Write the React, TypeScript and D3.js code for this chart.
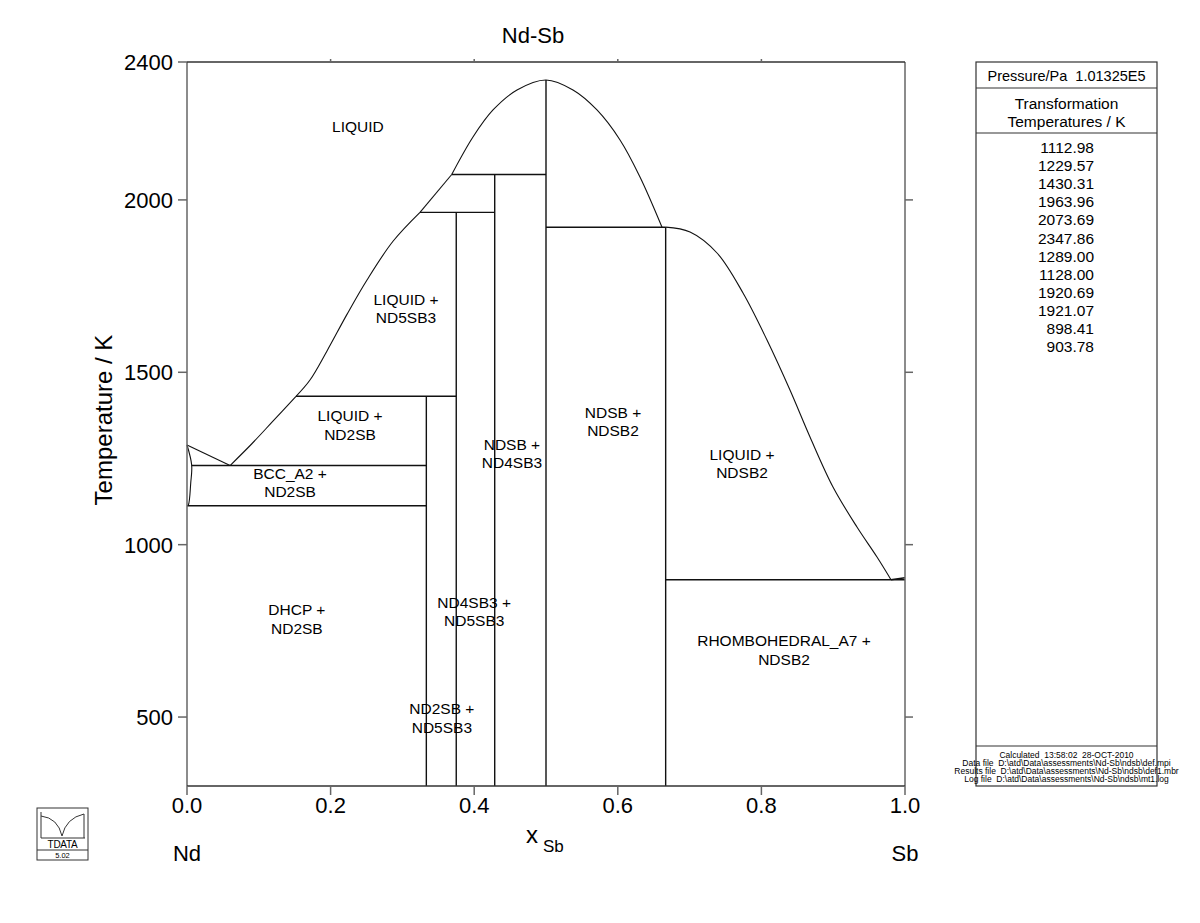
import React from "react";
import * as d3 from "d3";

const title = "Nd-Sb";
const xTicks = [0, 0.2, 0.4, 0.6, 0.8, 1.0];
const yTicks = [500, 1000, 1500, 2000, 2400];
const transformationTemps = ["1112.98", "1229.57", "1430.31", "1963.96", "2073.69", "2347.86", "1289.00", "1128.00", "1920.69", "1921.07", "898.41", "903.78"];
const footerLines = [
  "Calculated  13:58:02  28-OCT-2010",
  "Data file  D:\\atd\\Data\\assessments\\Nd-Sb\\ndsb\\def.mpi",
  "Results file  D:\\atd\\Data\\assessments\\Nd-Sb\\ndsb\\def1.mbr",
  "Log file  D:\\atd\\Data\\assessments\\Nd-Sb\\ndsb\\mt1.log",
];

// phase boundary curves: [x_Sb, T/K]
const liquidusNd: [number, number][] = [[0, 1289], [0.06, 1229.57]];
const solidusNd: [number, number][] = [[0, 1289], [0.0065, 1231], [0.0052, 1179], [0.0018, 1115], [0, 1112.98]];
const liquidusEut: [number, number][] = [[0.06, 1229.57], [0.09, 1292], [0.12, 1359], [0.1518, 1430.31]];
const liquidusLeft: [number, number][] = [[0.1518, 1430.31], [0.1713, 1477.6], [0.195, 1562], [0.2228, 1668], [0.2507, 1767.7], [0.2869, 1880], [0.3245, 1963.96]];
const liquidusStep: [number, number][] = [[0.3245, 1963.96], [0.3687, 2073.69]];
const liquidusDome: [number, number][] = [[0.3687, 2073.69], [0.3983, 2182.5], [0.4262, 2260.8], [0.4596, 2318.8], [0.5, 2347.86], [0.5376, 2318.8], [0.571, 2260.8], [0.6031, 2173.8], [0.6309, 2066.5], [0.6616, 1920.69]];
const liquidusRight: [number, number][] = [[0.6667, 1921.07], [0.7006, 1906.9], [0.7382, 1846], [0.7744, 1730], [0.8078, 1593.6], [0.8398, 1448.6], [0.8677, 1312.3], [0.8997, 1167.3], [0.9331, 1051.2], [0.961, 964.2], [0.9805, 898.41]];
const liquidusSb: [number, number][] = [[0.9805, 898.41], [1.0, 903.78]];

// invariant horizontals: [x1, x2, T]
const invariants: [number, number, number][] = [
  [0.0065, 1 / 3, 1229.57],
  [0, 1 / 3, 1112.98],
  [0.1518, 0.375, 1430.31],
  [0.3245, 3 / 7, 1963.96],
  [0.3687, 0.5, 2073.69],
  [0.5, 2 / 3, 1920.69],
  [2 / 3, 1.0, 898.41],
];
// compounds: [x, Ttop]
const compounds: [number, number][] = [
  [1 / 3, 1430.31],
  [0.375, 1963.96],
  [3 / 7, 2073.69],
  [0.5, 2347.86],
  [2 / 3, 1921.07],
];

const regionLabels: { x: number; t: number; lines: string[] }[] = [
  { x: 0.238, t: 2211, lines: ["LIQUID"] },
  { x: 0.305, t: 1684, lines: ["LIQUID +", "ND5SB3"] },
  { x: 0.227, t: 1347, lines: ["LIQUID +", "ND2SB"] },
  { x: 0.1435, t: 1179, lines: ["BCC_A2 +", "ND2SB"] },
  { x: 0.153, t: 784, lines: ["DHCP +", "ND2SB"] },
  { x: 0.4, t: 805, lines: ["ND4SB3 +", "ND5SB3"] },
  { x: 0.355, t: 497, lines: ["ND2SB +", "ND5SB3"] },
  { x: 0.4526, t: 1263, lines: ["NDSB +", "ND4SB3"] },
  { x: 0.5933, t: 1356, lines: ["NDSB +", "NDSB2"] },
  { x: 0.773, t: 1234, lines: ["LIQUID +", "NDSB2"] },
  { x: 0.8315, t: 694, lines: ["RHOMBOHEDRAL_A7 +", "NDSB2"] },
];

const FONT = "'Liberation Sans', Arial, Helvetica, sans-serif";

export default function App() {
  const W = 1200, H = 923;
  const left = 187, right = 905, top = 62, bottom = 786;
  const x = d3.scaleLinear().domain([0, 1]).range([left, right]);
  const y = d3.scaleLinear().domain([300, 2400]).range([bottom, top]);
  const line = d3.line<[number, number]>().x((d) => x(d[0])).y((d) => y(d[1]));
  const smooth = d3.line<[number, number]>().x((d) => x(d[0])).y((d) => y(d[1])).curve(d3.curveCatmullRom.alpha(0.5));
  const lineColor = "#111";
  const axisColor = "#666";

  const boxL = 976, boxR = 1157, boxT = 62, boxB = 786;
  const boxC = (boxL + boxR) / 2;

  return (
    <svg width={W} height={H} style={{ position: "absolute", left: 0, top: 0, background: "#fff" }} fontFamily={FONT}>
      <rect x={0} y={0} width={W} height={H} fill="#fff" />
      {/* title */}
      <text x={533} y={43} fontSize={22} textAnchor="middle">{title}</text>

      {/* phase lines */}
      <g fill="none" stroke={lineColor} strokeWidth={1.1}>
        <path d={line(liquidusNd) || ""} />
        <path d={smooth(solidusNd) || ""} />
        <path d={smooth(liquidusEut) || ""} />
        <path d={smooth(liquidusLeft) || ""} />
        <path d={line(liquidusStep) || ""} />
        <path d={smooth(liquidusDome) || ""} />
        <path d={smooth(liquidusRight) || ""} />
        <path d={line(liquidusSb) || ""} strokeWidth={1.5} />
        {invariants.map((d, i) => (
          <line key={"h" + i} x1={x(d[0])} x2={x(d[1])} y1={y(d[2])} y2={y(d[2])} strokeWidth={1.4} />
        ))}
        {compounds.map((d, i) => (
          <line key={"v" + i} x1={x(d[0])} x2={x(d[0])} y1={y(300)} y2={y(d[1])} strokeWidth={1.4} />
        ))}
      </g>

      {/* frame */}
      <g stroke={axisColor} strokeWidth={1.5} fill="none">
        <line x1={left} x2={left} y1={top} y2={bottom} />
        <line x1={right} x2={right} y1={top} y2={bottom} />
        <line x1={left} x2={right} y1={top} y2={top} stroke="#333" />
        <line x1={left} x2={right} y1={bottom} y2={bottom} stroke="#333" />
        {xTicks.map((t) => (
          <line key={"xb" + t} x1={x(t)} x2={x(t)} y1={bottom} y2={bottom + 9} />
        ))}
        {xTicks.filter((t) => t > 0 && t < 1).map((t) => (
          <line key={"xt" + t} x1={x(t)} x2={x(t)} y1={top} y2={top - 3} />
        ))}
        {yTicks.map((t) => (
          <line key={"yl" + t} x1={left} x2={left - 9} y1={y(t)} y2={y(t)} />
        ))}
        {yTicks.filter((t) => t < 2400).map((t) => (
          <line key={"yr" + t} x1={right} x2={right + 8} y1={y(t)} y2={y(t)} />
        ))}
      </g>

      {/* tick labels */}
      {xTicks.map((t) => (
        <text key={"xl" + t} x={x(t)} y={bottom + 27} fontSize={22} textAnchor="middle">{t.toFixed(1)}</text>
      ))}
      {yTicks.map((t) => (
        <text key={"ylb" + t} x={left - 14} y={y(t) + 8} fontSize={22} textAnchor="end">{t}</text>
      ))}

      {/* axis titles */}
      <text transform={`translate(112,420) rotate(-90)`} fontSize={24} textAnchor="middle">Temperature / K</text>
      <text x={526} y={843} fontSize={24}>x</text>
      <text x={543} y={852} fontSize={17}>Sb</text>
      <text x={x(0)} y={861} fontSize={22} textAnchor="middle">Nd</text>
      <text x={x(1)} y={861} fontSize={22} textAnchor="middle">Sb</text>

      {/* region labels */}
      {regionLabels.map((r, i) => (
        <text key={"r" + i} x={x(r.x)} y={y(r.t)} fontSize={15.5} textAnchor="middle">
          {r.lines.map((l, j) => (
            <tspan key={j} x={x(r.x)} dy={j === 0 ? (r.lines.length === 1 ? 5 : -4) : 18.5}>{l}</tspan>
          ))}
        </text>
      ))}

      {/* right info panel */}
      <g>
        <rect x={boxL} y={boxT} width={boxR - boxL} height={boxB - boxT} fill="none" stroke="#333" strokeWidth={1.2} />
        <line x1={boxL} x2={boxR} y1={88} y2={88} stroke="#333" strokeWidth={1.2} />
        <line x1={boxL} x2={boxR} y1={133} y2={133} stroke="#333" strokeWidth={1.2} />
        <line x1={boxL} x2={boxR} y1={746} y2={746} stroke="#333" strokeWidth={1.2} />
        <text x={boxC} y={81} fontSize={14.5} textAnchor="middle" style={{ whiteSpace: "pre" }}>{"Pressure/Pa  1.01325E5"}</text>
        <text x={boxC} y={109} fontSize={15.5} textAnchor="middle">Transformation</text>
        <text x={boxC} y={127} fontSize={15.5} textAnchor="middle">Temperatures / K</text>
        {transformationTemps.map((v, i) => (
          <text key={"tt" + i} x={1094} y={153 + i * 18.1} fontSize={15.5} textAnchor="end">{v}</text>
        ))}
        {footerLines.map((l, i) => (
          <text key={"f" + i} x={boxC} y={758 + i * 8} fontSize={8.5} textAnchor="middle" style={{ whiteSpace: "pre" }}>{l}</text>
        ))}
      </g>

      {/* logo */}
      <g fill="none" stroke="#333" strokeWidth={1}>
        <rect x={37} y={808} width={51} height={52} />
        <line x1={37} x2={88} y1={850} y2={850} />
        <path d="M41,812 L41,838 M41,816 Q58,818 62,836 Q66,818 84,814 L84,838" />
        <line x1={41} x2={85} y1={838} y2={838} />
      </g>
      <text x={62.5} y={848} fontSize={10} textAnchor="middle" letterSpacing={-0.3}>TDATA</text>
      <text x={62.5} y={858} fontSize={7.5} textAnchor="middle">5.02</text>
    </svg>
  );
}
